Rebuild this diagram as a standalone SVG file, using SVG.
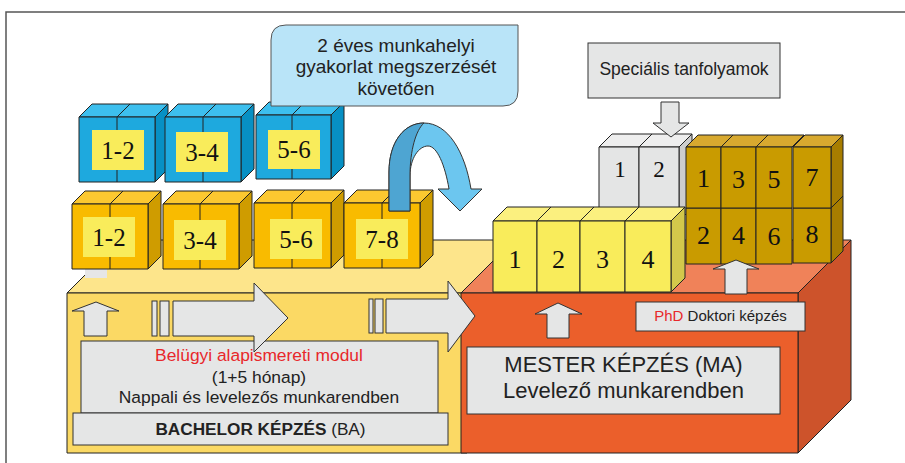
<svg xmlns="http://www.w3.org/2000/svg" width="905" height="463" viewBox="0 0 905 463">
<style>
.k{stroke:#222;stroke-width:1;stroke-linejoin:round}
.bf{fill:#1ea9de}.bt{fill:#3dbfee}.bs{fill:#0790c4}
.of{fill:#f9bb00}.ot{fill:#fcc830}.os{fill:#cf9c00}
.yf{fill:#f9ec5b}.yt{fill:#fbf07f}.ys{fill:#d3c84b}
.gf{fill:#e4e5e5}.gt{fill:#eeeeee}.gs{fill:#cdcdcd}
.nf{fill:#c99b00}.nt{fill:#d8a92f}.ns{fill:#a77d00}
.lab{fill:#f9ec5b}
.num{font-family:"Liberation Serif",serif;fill:#111;text-anchor:middle}
.sans{font-family:"Liberation Sans",Arial,sans-serif;fill:#222;text-anchor:middle}
.box{fill:#e5e6e6;stroke:#333;stroke-width:1}
.arr{fill:#e5e6e6;stroke:#333;stroke-width:1;stroke-linejoin:miter}
.red{fill:#e8282b}
</style>
<rect width="905" height="463" fill="#fff"/>
<polyline points="6,463 6,12 905,12" fill="none" stroke="#555" stroke-width="1.5"/>

<g id="ba-slab">
<polygon class="k" points="67,293 470,293 520,240 120,240" fill="#fde58b"/>
<rect class="k" x="67" y="293" width="400" height="160" fill="#fbd964"/>
</g>
<g id="ma-slab">
<polygon class="k" points="461,293 798,293 851,240 514,240" fill="#f08259"/>
<polygon class="k" points="798,293 851,240 851,400 798,453" fill="#cd532b"/>
<rect class="k" x="461" y="293" width="337" height="160" fill="#eb5f2b"/>
</g>
<rect x="85" y="269" width="22" height="9" fill="#e6e6e6"/>

<g id="blue-cubes">
<g id="blue-1-2">
<polygon class="k bt" points="79,117 155,117 168,104 92,104"/>
<polygon class="k bs" points="155,117 168,104 168,169 155,182"/>
<rect class="k bf" x="79" y="117" width="76" height="65"/>
<path class="k" d="M117,117V182M117,117L130,104" fill="none"/>
<rect class="lab" x="92" y="130" width="52" height="40"/>
<text class="num" x="118" y="159" font-size="25">1-2</text>
</g>
<g id="blue-3-4">
<polygon class="k bt" points="165,117 241,117 254,104 178,104"/>
<polygon class="k bs" points="241,117 254,104 254,169 241,182"/>
<rect class="k bf" x="165" y="117" width="76" height="65"/>
<path class="k" d="M203,117V182M203,117L216,104" fill="none"/>
<rect class="lab" x="176" y="132" width="52" height="40"/>
<text class="num" x="202" y="161" font-size="25">3-4</text>
</g>
<g id="blue-5-6">
<polygon class="k bt" points="256,115 331,115 344,102 269,102"/>
<polygon class="k bs" points="331,115 344,102 344,166 331,179"/>
<rect class="k bf" x="256" y="115" width="75" height="64"/>
<path class="k" d="M292,115V179M292,115L305,102" fill="none"/>
<rect class="lab" x="268" y="130" width="52" height="39"/>
<text class="num" x="294" y="158" font-size="25">5-6</text>
</g>
</g>

<g id="orange-cubes">
<g id="orange-1-2">
<polygon class="k ot" points="72,204 148,204 161,191 85,191"/>
<polygon class="k os" points="148,204 161,191 161,256 148,269"/>
<rect class="k of" x="72" y="204" width="76" height="65"/>
<path class="k" d="M110,204V269M110,204L123,191" fill="none"/>
<rect class="lab" x="83" y="217" width="52" height="40"/>
<text class="num" x="109" y="246" font-size="25">1-2</text>
</g>
<g id="orange-3-4">
<polygon class="k ot" points="163,204 239,204 252,191 176,191"/>
<polygon class="k os" points="239,204 252,191 252,256 239,269"/>
<rect class="k of" x="163" y="204" width="76" height="65"/>
<path class="k" d="M200,204V269M200,204L213,191" fill="none"/>
<rect class="lab" x="174" y="220" width="52" height="40"/>
<text class="num" x="200" y="249" font-size="25">3-4</text>
</g>
<g id="orange-5-6">
<polygon class="k ot" points="254,203 331,203 344,190 267,190"/>
<polygon class="k os" points="331,203 344,190 344,255 331,268"/>
<rect class="k of" x="254" y="203" width="77" height="65"/>
<path class="k" d="M292,203V268M292,203L305,190" fill="none"/>
<rect class="lab" x="270" y="219" width="52" height="40"/>
<text class="num" x="296" y="248" font-size="25">5-6</text>
</g>
<g id="orange-7-8">
<polygon class="k ot" points="344,203 420,203 433,190 357,190"/>
<polygon class="k os" points="420,203 433,190 433,255 420,268"/>
<rect class="k of" x="344" y="203" width="76" height="65"/>
<path class="k" d="M382,203V268M382,203L395,190" fill="none"/>
<rect class="lab" x="356" y="219" width="52" height="40"/>
<text class="num" x="382" y="248" font-size="25">7-8</text>
</g>
</g>

<g id="callout">
<path d="M271,106V40Q271,25 286,25H518V91Q518,106 503,106Z" fill="#b9e4f8" stroke="#555" stroke-width="1"/>
<text class="sans" font-size="19" x="396" y="51.5">2 éves munkahelyi</text>
<text class="sans" font-size="19" x="396" y="73">gyakorlat megszerzését</text>
<text class="sans" font-size="19" x="396" y="94.5">követően</text>
</g>

<g id="grey-cubes">
<polygon class="k gt" points="599,147 639,147 652,134 612,134"/>
<polygon class="k gt" points="639,147 679,147 692,134 652,134"/>
<polygon class="k gs" points="679,147 692,134 692,208 679,221"/>
<rect class="k gf" x="599" y="147" width="40" height="74"/>
<rect class="k gf" x="639" y="147" width="40" height="74"/>
<text class="num" x="620" y="177" font-size="23">1</text>
<text class="num" x="659" y="177" font-size="23">2</text>
</g>

<g id="phd-cubes">
<polygon class="k ns" points="721,208 733,196 733,252 721,264"/>
<rect class="k nf" x="686" y="208" width="35" height="56"/>
<polygon class="k nt" points="686,147 721,147 733,135 698,135"/>
<polygon class="k ns" points="721,147 733,135 733,196 721,208"/>
<rect class="k nf" x="686" y="147" width="35" height="61"/>
<rect class="k nf" x="721" y="208" width="35" height="56"/>
<polygon class="k nt" points="721,147 756,147 768,135 733,135"/>
<rect class="k nf" x="721" y="147" width="35" height="61"/>
<rect class="k nf" x="756" y="208" width="36" height="56"/>
<polygon class="k nt" points="756,147 792,147 804,135 768,135"/>
<rect class="k nf" x="756" y="147" width="36" height="61"/>
<polygon class="k ns" points="831,208 843,196 843,251 831,263"/>
<rect class="k nf" x="793" y="208" width="38" height="55"/>
<polygon class="k nt" points="793,147 831,147 843,135 805,135"/>
<polygon class="k ns" points="831,147 843,135 843,196 831,208"/>
<rect class="k nf" x="793" y="147" width="38" height="61"/>
<text class="num" x="703.5" y="187" font-size="26">1</text>
<text class="num" x="738.5" y="188" font-size="26">3</text>
<text class="num" x="774" y="188" font-size="26">5</text>
<text class="num" x="812" y="186" font-size="26">7</text>
<text class="num" x="703.5" y="244" font-size="26">2</text>
<text class="num" x="738.5" y="244" font-size="26">4</text>
<text class="num" x="774" y="245" font-size="26">6</text>
<text class="num" x="812" y="243" font-size="26">8</text>
</g>

<g id="master-cubes">
<polygon class="k yt" points="493,221 537,221 551,207 507,207"/>
<polygon class="k yt" points="537,221 580,221 594,207 551,207"/>
<polygon class="k yt" points="580,221 625,221 639,207 594,207"/>
<polygon class="k yt" points="625,221 671,221 685,207 639,207"/>
<polygon class="k ys" points="671,221 685,207 685,278 671,292"/>
<rect class="k yf" x="493" y="221" width="44" height="71"/>
<rect class="k yf" x="537" y="221" width="43" height="71"/>
<rect class="k yf" x="580" y="221" width="45" height="71"/>
<rect class="k yf" x="625" y="221" width="46" height="71"/>
<text class="num" x="515" y="268" font-size="26">1</text>
<text class="num" x="558.5" y="268" font-size="26">2</text>
<text class="num" x="602.5" y="268" font-size="26">3</text>
<text class="num" x="648" y="268" font-size="26">4</text>
</g>

<g id="specialis">
<rect class="box" x="588" y="43" width="192" height="55"/>
<text class="sans" font-size="17.5" x="684" y="75">Speciális tanfolyamok</text>
</g>

<g id="modul">
<rect class="box" x="81" y="341" width="357" height="72"/>
<text class="sans red" font-size="17.4" x="259" y="361">Belügyi alapismereti modul</text>
<text class="sans" font-size="17.4" x="259" y="383">(1+5 hónap)</text>
<text class="sans" font-size="17.4" x="259" y="403">Nappali és levelezős munkarendben</text>
</g>
<g id="bachelor">
<rect class="box" x="73" y="413" width="375" height="32"/>
<text class="sans" font-size="17.2" x="260.5" y="435"><tspan font-weight="bold">BACHELOR KÉPZÉS</tspan> (BA)</text>
</g>
<g id="mester">
<rect class="box" x="467" y="347" width="313" height="67"/>
<text class="sans" font-size="22" x="623.5" y="372">MESTER KÉPZÉS (MA)</text>
<text class="sans" font-size="22" x="623.5" y="398">Levelező munkarendben</text>
</g>
<g id="phd">
<rect class="box" x="636" y="302" width="169" height="29"/>
<text class="sans" font-size="15" x="720.5" y="321"><tspan class="red">PhD</tspan> Doktori képzés</text>
</g>

<g id="connectors">
<polygon class="arr" points="84,336 107,336 107,311 119,311 96,302 72,311 84,311"/>
<rect class="arr" x="152" y="301" width="5" height="35"/>
<rect class="arr" x="160" y="301" width="9" height="35"/>
<polygon class="arr" points="173,301 254,301 254,283 288,318 254,352 254,336 173,336"/>
<rect class="arr" x="369" y="299" width="4" height="34"/>
<rect class="arr" x="375" y="299" width="8" height="34"/>
<polygon class="arr" points="386,299 448,299 448,281 475,316 448,352 448,333 386,333"/>
<polygon class="arr" points="547,338 569,338 569,314 582,314 558,303 535,314 547,314"/>
<polygon class="arr" points="725,294 747,294 747,269 759,269 736,260 713,269 725,269"/>
<polygon class="arr" points="661,102 679,102 679,123 689,123 671,137 653,123 661,123"/>
<path d="M389,211L389,172C389,142 404,123 424,123C448,123 465,152 471,189L482,189L460,211L438,189L449,189C445,165 437,146 428,146C419,146 410,158 410,176L410,211Z" fill="#6cc6ef" stroke="#333" stroke-width="1"/>
<path d="M389,211L389,172C389,142 404,123 424,123C416,130 410,150 410,176L410,211Z" fill="#4ea5d2" stroke="#333" stroke-width="1"/>
</g>
</svg>
